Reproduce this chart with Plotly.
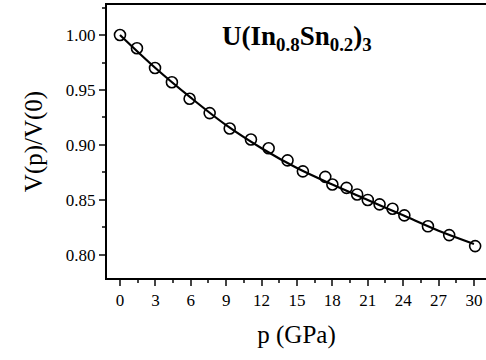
import plotly.graph_objects as go

# measured data points
pressure = [0.0, 1.44, 2.97, 4.4, 5.9, 7.6, 9.3, 11.1, 12.6, 14.2, 15.5, 17.4, 18.0,
            19.2, 20.1, 21.0, 22.0, 23.1, 24.1, 26.1, 27.9, 30.1]
vol_ratio = [1.000, 0.988, 0.970, 0.957, 0.942, 0.929, 0.915, 0.905, 0.897, 0.886, 0.876,
             0.871, 0.864, 0.861, 0.855, 0.850, 0.846, 0.842, 0.836, 0.826, 0.818, 0.808]

# fitted curve
fit_p = [0, 3, 6, 9, 12, 15, 18, 21, 24, 27, 30]
fit_v = [1.000, 0.970, 0.943, 0.918, 0.897, 0.879, 0.864, 0.850, 0.836, 0.822, 0.810]

x_ticks = [0, 3, 6, 9, 12, 15, 18, 21, 24, 27, 30]
y_ticks = [0.80, 0.85, 0.90, 0.95, 1.00]

font = "Liberation Serif, Times New Roman, serif"

L, T, W, H = 107, 5, 379, 273

fig = go.Figure()
fig.add_trace(go.Scatter(x=fit_p, y=fit_v, mode="lines",
                         line=dict(color="black", width=2.2, shape="spline"),
                         showlegend=False, hoverinfo="skip"))
fig.add_trace(go.Scatter(x=pressure, y=vol_ratio, mode="markers",
                         marker=dict(symbol="circle-open", size=11, color="black",
                                     line=dict(width=1.6, color="black")),
                         showlegend=False))

fig.update_layout(
    width=486, height=360,
    margin=dict(l=L, r=486 - L - W, t=T, b=360 - T - H),
    paper_bgcolor="white", plot_bgcolor="white",
    font=dict(family=font, color="black", size=15),
    annotations=[dict(text="<b>U(In<sub>0.8</sub>Sn<sub>0.2</sub>)<sub>3</sub></b>",
                      x=(297 - L) / W, y=1 - (38 - T) / H,
                      xref="paper", yref="paper", xanchor="center", yanchor="middle",
                      showarrow=False, font=dict(size=27, family=font))],
)

fig.update_xaxes(range=[-1.10, 31.02], tickvals=x_ticks, ticks="outside", ticklen=6,
                 tickwidth=1.5, showline=True, linewidth=2, linecolor="black",
                 mirror=True, showgrid=False, zeroline=False,
                 minor=dict(dtick=1.5, tick0=0, ticks="outside", ticklen=3, tickwidth=1.5),
                 title=dict(text="p (GPa)", font=dict(size=25, family=font), standoff=16),
                 tickfont=dict(size=17, family=font))
fig.update_yaxes(range=[0.779, 1.0273], tickvals=y_ticks, tickformat=".2f",
                 ticks="outside", ticklen=6, tickwidth=1.5,
                 showline=True, linewidth=2, linecolor="black", mirror=False,
                 showgrid=False, zeroline=False,
                 minor=dict(dtick=0.025, tick0=0.8, ticks="outside", ticklen=3, tickwidth=1.5),
                 title=dict(text="V(p)/V(0)", font=dict(size=25, family=font), standoff=16),
                 tickfont=dict(size=17, family=font))

fig.write_html("out.html", config={"displayModeBar": False},
               post_script="document.body.style.margin='0';")
